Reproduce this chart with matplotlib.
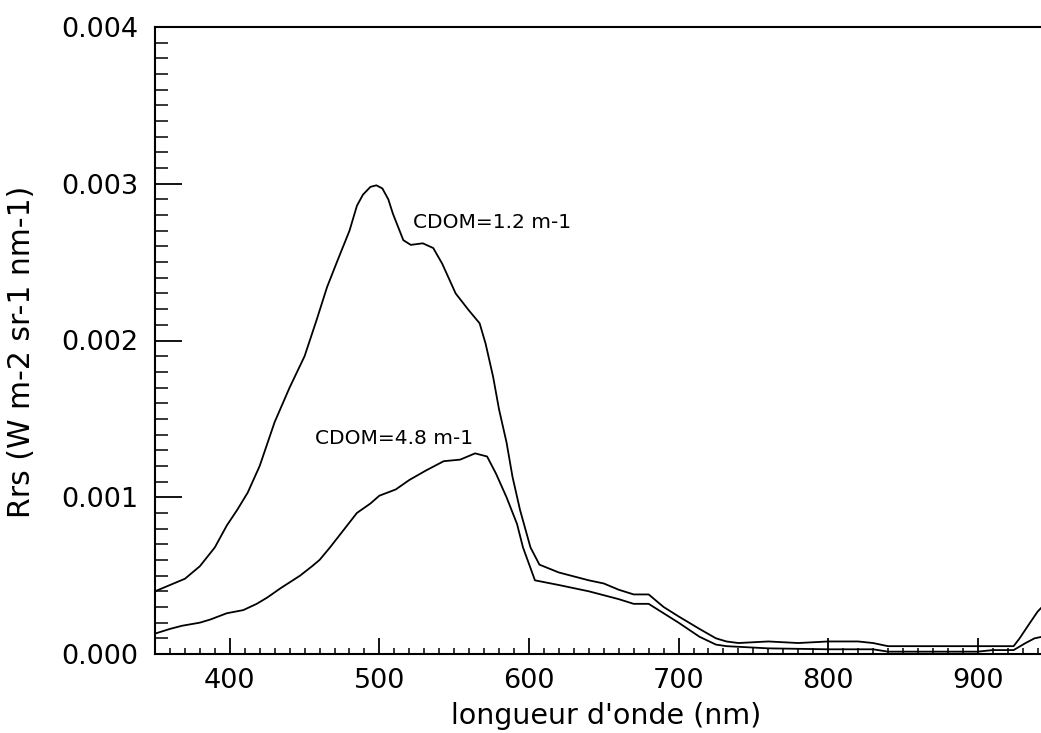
import matplotlib
matplotlib.use("Agg")
import matplotlib.pyplot as plt
from matplotlib.ticker import MultipleLocator, FormatStrFormatter

wl_low = [350, 360, 370, 380, 390, 398, 405, 412, 420, 430, 440, 450, 458, 465, 472,
          480, 485, 489, 494, 498, 502, 506, 509, 516, 521, 529, 536, 542, 551, 560, 567, 571,
          576, 580, 585, 589, 594, 601, 607, 620, 640, 650, 660, 670, 680, 690, 700,
          714, 725, 732, 740, 760, 780, 800, 820, 830, 840, 900, 924, 928, 935, 940, 943]
rrs_low = [0.00040, 0.00044, 0.00048, 0.00056, 0.00068, 0.00082, 0.00092, 0.00103, 0.00120,
           0.00148, 0.00170, 0.00190, 0.00213, 0.00234, 0.00251, 0.00270, 0.00286, 0.00293,
           0.00298, 0.00299, 0.00297, 0.00290, 0.00281, 0.00264, 0.00261, 0.00262, 0.00259,
           0.00249, 0.00230, 0.00219, 0.00211, 0.00198, 0.00177, 0.00156, 0.00135, 0.00113,
           0.00092, 0.00068, 0.00057, 0.00052, 0.00047, 0.00045, 0.00041, 0.00038, 0.00038,
           0.00030, 0.00024, 0.00016, 0.00010, 0.00008, 0.00007, 0.00008, 0.00007, 0.00008,
           0.00008, 0.00007, 0.00005, 0.00005, 0.00005, 0.00010, 0.00020, 0.00027, 0.00030]

wl_high = [350, 360, 368, 380, 387, 398, 409, 418, 425, 434, 447, 455, 460, 467, 476, 485,
           494, 500, 511, 520, 531, 543, 554, 564, 572, 578, 585, 592, 596, 604, 620, 640,
           660, 670, 680, 690, 700, 714, 725, 732, 760, 800, 830, 840, 900, 910, 924, 932,
           938, 943]
rrs_high = [0.00013, 0.00016, 0.00018, 0.00020, 0.00022, 0.00026, 0.00028, 0.00032, 0.00036,
            0.00042, 0.00050, 0.00056, 0.00060, 0.00068, 0.00079, 0.00090, 0.00096, 0.00101,
            0.00105, 0.00111, 0.00117, 0.00123, 0.00124, 0.00128, 0.00126, 0.00115, 0.00100,
            0.00083, 0.00068, 0.00047, 0.00044, 0.00040, 0.00035, 0.00032, 0.00032, 0.00026,
            0.00020, 0.00011, 0.00006, 0.00005, 0.000036, 0.00003, 0.00003, 0.000015,
            0.000015, 0.000025, 0.000025, 0.00007, 0.00010, 0.00011]

label_low = "CDOM=1.2 m-1"
label_high = "CDOM=4.8 m-1"
xlabel = "longueur d'onde (nm)"
ylabel = "Rrs (W m-2 sr-1 nm-1)"

plt.rcParams['font.family'] = ['DejaVu Sans']

fig = plt.figure(figsize=(10.41, 7.33), dpi=100)
ax = fig.add_axes([155/1041, 1 - 654/733, 1 - 155/1041, (654 - 27)/733])

ax.plot(wl_low, rrs_low, color='black', lw=1.3)
ax.plot(wl_high, rrs_high, color='black', lw=1.3)

ax.set_xlim(350, 942.3)
ax.set_ylim(0, 0.004)

ax.xaxis.set_major_locator(MultipleLocator(100))
ax.xaxis.set_minor_locator(MultipleLocator(10))
ax.yaxis.set_major_locator(MultipleLocator(0.001))
ax.yaxis.set_minor_locator(MultipleLocator(0.0001))
ax.yaxis.set_major_formatter(FormatStrFormatter('%.3f'))

ax.tick_params(axis='x', which='major', direction='in', length=11.5, width=1.3,
               labelsize=19.5, pad=10, top=False)
ax.tick_params(axis='x', which='minor', direction='in', length=4.5, width=1.1, top=False)
ax.tick_params(axis='y', which='major', direction='in', length=19.5, width=1.3,
               labelsize=19.5, pad=12, right=False)
ax.tick_params(axis='y', which='minor', direction='in', length=9.5, width=1.1, right=False)

for s in ['left', 'bottom', 'top']:
    ax.spines[s].set_linewidth(1.5)
ax.spines['right'].set_visible(False)

ax.set_xlabel(xlabel, fontsize=20.5)
ax.set_ylabel(ylabel, fontsize=21.5)
ax.xaxis.set_label_coords((606 - 155) / 886, (654 - 716) / 627)
ax.yaxis.set_label_coords((22 - 155) / 886, (654 - 352) / 627)
ax.xaxis.label.set_va('center')
ax.yaxis.label.set_va('center')


def fig_px(x, y):
    return (x / 1041, 1 - y / 733)


fig.text(*fig_px(413, 223), label_low, fontsize=14.5, ha='left', va='center')
fig.text(*fig_px(315, 439), label_high, fontsize=14.5, ha='left', va='center')

fig.savefig("out.png", dpi=100)
